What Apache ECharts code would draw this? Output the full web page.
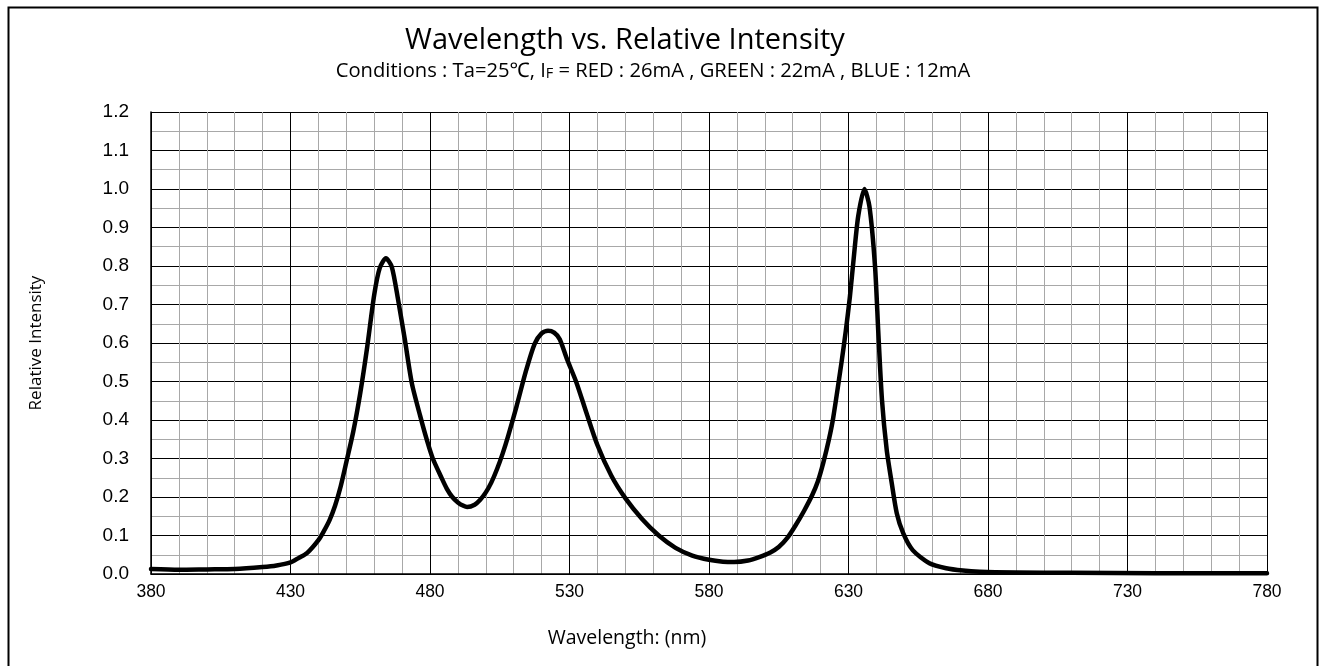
<!DOCTYPE html>
<html>
<head>
<meta charset="utf-8">
<script src="https://cdn.jsdelivr.net/npm/echarts@6/dist/echarts.min.js"></script>
<style>
html,body{margin:0;padding:0;background:#fff;}
#c{width:1323px;height:666px;}
</style>
</head>
<body>
<div id="c"></div>
<script>
// Data
const wavelengths = [380,390,400,410,420,425,430,433,436,440,442,444,446,448,450,452.5,455,457.5,460,462,464.2,466.3,468.5,471,473.5,476.5,479,481,484,486,488,490,492,493.3,496,498,500,502,504,506,508,511,514.5,517.5,520,522.3,524.5,526.5,529,532.5,536,540,545,550,556,562,568,574,580,585,589,594,598,602,605,608,611,614,617,619,621,623,624.5,627.5,629,630.5,632,633.5,635.7,637.5,639.5,640.7,642,643.7,645.5,647.3,649.6,653,659,665,671,677,690,710,740,780];
const intensity = [0.013,0.011,0.012,0.013,0.018,0.022,0.030,0.042,0.055,0.088,0.112,0.140,0.178,0.228,0.290,0.370,0.470,0.590,0.725,0.795,0.820,0.798,0.715,0.608,0.495,0.410,0.345,0.300,0.252,0.222,0.200,0.186,0.177,0.174,0.180,0.193,0.212,0.238,0.272,0.312,0.358,0.435,0.530,0.598,0.625,0.632,0.627,0.610,0.560,0.497,0.420,0.335,0.255,0.197,0.143,0.100,0.068,0.048,0.037,0.032,0.031,0.035,0.044,0.056,0.070,0.093,0.126,0.163,0.205,0.240,0.290,0.350,0.405,0.550,0.630,0.720,0.830,0.930,1.000,0.955,0.800,0.625,0.452,0.322,0.236,0.158,0.106,0.062,0.028,0.015,0.009,0.006,0.004,0.003,0.002,0.002];
const xMin = 380, xMax = 780, xMajor = 50, xMinor = 10;
const yMin = 0, yMax = 1.2, yMajor = 0.1;
const titleText = 'Wavelength vs. Relative Intensity';
const xName = 'Wavelength: (nm)';
const yName = 'Relative Intensity';

const seriesData = wavelengths.map((w, i) => [w, intensity[i]]);
const chart = echarts.init(document.getElementById('c'), null, {renderer: 'canvas'});
const labelFont = '"Liberation Sans", Arial, sans-serif';
const textFont = '"Open Sans", "Noto Sans", sans-serif';
const minorColor = '#a8a8a8';
const xLineColors = [];
for (let k = 0; k < xMajor / xMinor; k++) xLineColors.push(k === 0 ? '#000' : minorColor);

chart.setOption({
  animation: false,
  backgroundColor: '#fff',
  graphic: [{
    type: 'rect', left: 6, top: 5,
    shape: {width: 1309, height: 680},
    style: {fill: 'none', stroke: '#000', lineWidth: 2}, silent: true
  }],
  title: [{
    text: titleText, left: 620, top: 21, textAlign: 'center',
    textStyle: {fontFamily: textFont, fontSize: 29, fontWeight: 'normal', color: '#000'}
  }, {
    text: 'Conditions : Ta=25℃, I{s|F} = RED : 26mA , GREEN : 22mA , BLUE : 12mA',
    left: 648, top: 56, textAlign: 'center',
    textStyle: {fontFamily: textFont, fontSize: 20.2, fontWeight: 'normal', color: '#000',
      rich: {s: {fontFamily: textFont, fontSize: 14.5, color: '#000', verticalAlign: 'bottom', padding: [3,0,0,0]}}}
  }, {
    text: xName, left: 622, top: 623, textAlign: 'center',
    textStyle: {fontFamily: textFont, fontSize: 19.5, fontWeight: 'normal', color: '#000'}
  }],
  grid: {left: 151, right: 56, top: 112, bottom: 92, containLabel: false},
  xAxis: {
    type: 'value', min: xMin, max: xMax, interval: xMinor,
    axisLine: {show: true, lineStyle: {color: '#000', width: 1.5}},
    axisTick: {show: false},
    axisLabel: {
      margin: 9, color: '#000', fontFamily: labelFont, fontSize: 17.5,
      formatter: v => (Math.round(v - xMin) % xMajor === 0) ? String(Math.round(v)) : ''
    },
    splitLine: {show: true, lineStyle: {color: xLineColors, width: 1}}
  },
  yAxis: {
    type: 'value', min: yMin, max: yMax, interval: yMajor,
    name: yName, nameLocation: 'middle', nameGap: 106,
    nameTextStyle: {fontFamily: textFont, fontSize: 17, color: '#000'},
    axisLine: {show: true, lineStyle: {color: '#000', width: 1.5}},
    axisTick: {show: false},
    axisLabel: {margin: 22, color: '#000', fontFamily: labelFont, fontSize: 19,
      formatter: v => v.toFixed(1)},
    splitLine: {show: true, lineStyle: {color: '#000', width: 1}},
    minorTick: {show: false, splitNumber: 2},
    minorSplitLine: {show: true, lineStyle: {color: minorColor, width: 1}}
  },
  series: [{
    type: 'line', data: seriesData, showSymbol: false, symbol: 'none',
    smooth: 0.25,
    lineStyle: {color: '#000', width: 4.5, join: 'round', cap: 'round'}, z: 5
  }]
});
</script>
</body>
</html>
